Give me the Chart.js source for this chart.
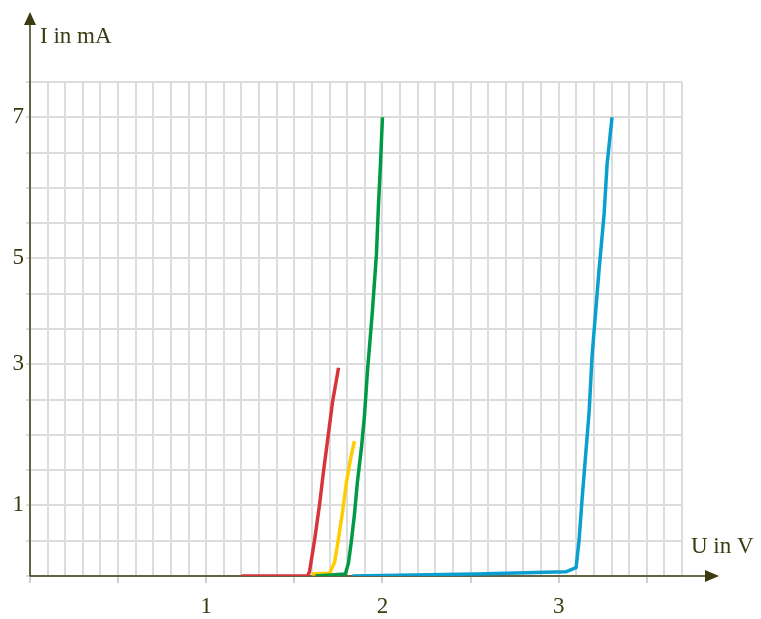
<!DOCTYPE html>
<html><head><meta charset="utf-8">
<script src="https://cdn.jsdelivr.net/npm/chart.js@4"></script>
<style>html,body{margin:0;padding:0;background:#fff}#wrap{width:761px;height:619px;position:relative}</style>
</head><body><div id="wrap"><canvas id="c"></canvas></div>
<script>
// Values (U in V, I in grid units of the linear scale)
const redU    = [1.20, 1.575, 1.586, 1.615, 1.643, 1.666, 1.688, 1.717, 1.751];
const redI    = [0.00, 0.00, 0.06, 0.51, 1.01, 1.49, 1.91, 2.47, 2.95];
const yellowU = [1.598, 1.700, 1.728, 1.745, 1.773, 1.796, 1.819, 1.841];
const yellowI = [0.03, 0.04, 0.19, 0.44, 0.90, 1.33, 1.66, 1.91];
const greenU  = [1.62, 1.79, 1.807, 1.824, 1.841, 1.858, 1.881, 1.898, 1.915, 1.943, 1.966, 1.977, 1.989, 2.00];
const greenI  = [0.00, 0.03, 0.18, 0.50, 0.87, 1.33, 1.82, 2.27, 2.90, 3.75, 4.56, 5.23, 5.84, 6.50];
const blueU   = [1.83, 2.53, 3.04, 3.099, 3.116, 3.133, 3.156, 3.173, 3.190, 3.229, 3.258, 3.275, 3.303];
const blueI   = [0.00, 0.03, 0.06, 0.12, 0.51, 1.09, 1.80, 2.33, 3.13, 4.33, 5.13, 5.84, 6.50];

const xTickValues = [1, 2, 3];
const xTickLabels = ['1', '2', '3'];
const yTickValues = [1, 3, 4.5, 6.5];
const yTickLabels = ['1', '3', '5', '7'];
const xAxisTitle = 'U in V';
const yAxisTitle = 'I in mA';

const INK = '#3b3b12';
const GRID = '#dcdcdc';
const FONT = "'Liberation Serif','Times New Roman',serif";

function pts(u, i) { return u.map((v, k) => ({ x: v, y: i[k] })); }
function labelFor(vals, labels, v) {
  const k = vals.findIndex(t => Math.abs(t - v) < 1e-6);
  return k >= 0 ? labels[k] : '';
}
function isHalf(v) { return Math.abs(v * 2 - Math.round(v * 2)) < 1e-6; }

const axesPlugin = {
  id: 'axesArrows',
  beforeDatasetsDraw(chart) {
    const { ctx } = chart;
    const x0 = chart.scales.x.getPixelForValue(0);
    const y0 = chart.scales.y.getPixelForValue(0);
    ctx.save();
    ctx.strokeStyle = INK;
    ctx.lineWidth = 1.5;
    ctx.beginPath();
    ctx.moveTo(x0, y0 + 0.5); ctx.lineTo(x0, 22);
    ctx.moveTo(x0, y0); ctx.lineTo(708, y0);
    ctx.stroke();
    ctx.fillStyle = INK;
    ctx.beginPath();
    ctx.moveTo(x0, 12); ctx.lineTo(x0 - 6, 25); ctx.lineTo(x0 + 6, 25); ctx.closePath();
    ctx.fill();
    ctx.beginPath();
    ctx.moveTo(719, y0); ctx.lineTo(705, y0 - 6); ctx.lineTo(705, y0 + 6); ctx.closePath();
    ctx.fill();
    ctx.restore();
  },
  afterDraw(chart) {
    const { ctx } = chart;
    ctx.save();
    ctx.fillStyle = INK;
    ctx.font = '23px ' + FONT;
    ctx.textBaseline = 'alphabetic';
    ctx.textAlign = 'left';
    ctx.fillText(yAxisTitle, 40, 43);
    ctx.fillText(xAxisTitle, 691, 553);
    ctx.restore();
  }
};

new Chart(document.getElementById('c'), {
  type: 'line',
  data: {
    datasets: [
      { data: pts(blueU, blueI), borderColor: '#0a9fd0', order: 1 },
      { data: pts(greenU, greenI), borderColor: '#009a44', order: 2 },
      { data: pts(yellowU, yellowI), borderColor: '#ffcc00', order: 3 },
      { data: pts(redU, redI), borderColor: '#d6363b', order: 4 }
    ]
  },
  options: {
    responsive: true,
    maintainAspectRatio: false,
    animation: false,
    events: [],
    layout: { padding: { top: 82, right: 79, left: 0, bottom: 0 } },
    elements: {
      line: { borderWidth: 3.5, tension: 0, fill: false, borderCapStyle: 'butt', borderJoinStyle: 'round' },
      point: { radius: 0 }
    },
    plugins: { legend: { display: false }, tooltip: { enabled: false } },
    scales: {
      x: {
        type: 'linear', min: 0, max: 3.7,
        afterBuildTicks(s) { s.ticks = Array.from({ length: 38 }, (_, k) => ({ value: k / 10 })); },
        afterFit(s) { s.height = 43; },
        border: { display: false },
        grid: {
          color: GRID, lineWidth: 2, tickLength: 7,
          tickColor: c => isHalf(c.tick.value) ? '#d0d0d0' : 'rgba(0,0,0,0)'
        },
        ticks: {
          autoSkip: false, maxRotation: 0, padding: 10, color: INK,
          font: { family: FONT, size: 23 },
          callback: v => labelFor(xTickValues, xTickLabels, v)
        }
      },
      y: {
        type: 'linear', min: 0, max: 7,
        afterBuildTicks(s) { s.ticks = Array.from({ length: 15 }, (_, k) => ({ value: k / 2 })); },
        afterFit(s) { s.width = 30; },
        border: { display: false },
        grid: { color: GRID, lineWidth: 2, tickLength: 4, tickColor: GRID },
        ticks: {
          autoSkip: false, padding: 2, color: INK,
          font: { family: FONT, size: 23 },
          callback: v => labelFor(yTickValues, yTickLabels, v)
        }
      }
    }
  },
  plugins: [axesPlugin]
});
</script>
</body></html>
